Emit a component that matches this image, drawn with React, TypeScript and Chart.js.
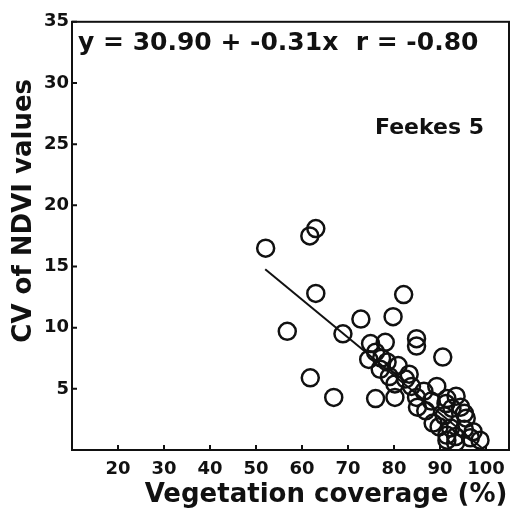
import { useEffect, useRef } from "react";
import { Chart, registerables } from "chart.js";

Chart.register(...registerables);

// Vegetation coverage (%) of each sample
const vegCoverage = [
  52.1, 61.7, 63.0, 63.0, 56.8, 72.8, 82.1, 79.8, 68.9, 84.9,
  84.9, 90.6, 61.8, 66.9, 76.0, 74.9, 78.1, 74.5, 77.3, 76.0,
  77.0, 80.9, 83.3, 80.2, 83.8, 80.2, 84.9, 85.1, 89.3, 88.1,
  91.5, 91.3, 92.6, 94.5, 95.3, 88.5, 90.9, 92.3, 91.5, 93.4,
  93.5, 95.3, 96.6, 98.7, 91.5, 93.4, 86.5, 82.5, 79.0, 86.9,
  89.8, 95.7, 97.2, 78.5,
];
// CV of NDVI values of each sample
const cvNdvi = [
  16.5, 17.5, 18.1, 12.8, 9.7, 10.7, 12.7, 10.9, 9.5, 9.1,
  8.5, 7.6, 5.9, 4.3, 4.2, 8.7, 8.8, 7.4, 7.5, 8.0,
  6.6, 6.9, 6.2, 5.4, 5.2, 4.3, 4.3, 3.5, 5.2, 4.0,
  4.2, 3.8, 3.4, 3.5, 3.0, 2.2, 2.8, 1.8, 1.2, 1.1,
  4.4, 1.7, 1.0, 0.8, 0.8, 0.6, 4.8, 5.8, 6.0, 3.2,
  1.9, 2.6, 1.5, 7.2,
];

const xTickValues = [20, 30, 40, 50, 60, 70, 80, 90, 100];
const yTickValues = [5, 10, 15, 20, 25, 30, 35];
const xRange = [10, 105];
const yRange = [0, 35];

const fitIntercept = 30.9;
const fitSlope = -0.31;
const fitXRange = [52, 99];

const equationLabel = "y = 30.90 + -0.31x  r = -0.80";
const stageLabel = "Feekes 5";
const xTitle = "Vegetation coverage (%)";
const yTitle = "CV of NDVI values";

const INK = "#111111";
const FONT = "'DejaVu Sans', sans-serif";

const framePlugin = {
  id: "frameAndText",
  afterDraw(chart: any) {
    const { ctx, chartArea: a, scales } = chart;
    ctx.save();
    ctx.strokeStyle = INK;
    ctx.lineWidth = 2;
    ctx.strokeRect(a.left, a.top, a.right - a.left, a.bottom - a.top);
    ctx.beginPath();
    for (const t of scales.x.ticks) {
      const px = scales.x.getPixelForValue(t.value);
      ctx.moveTo(px, a.bottom);
      ctx.lineTo(px, a.bottom - 5);
    }
    for (const t of scales.y.ticks) {
      const py = scales.y.getPixelForValue(t.value);
      ctx.moveTo(a.left, py);
      ctx.lineTo(a.left + 5, py);
    }
    ctx.stroke();

    ctx.fillStyle = INK;
    ctx.textBaseline = "alphabetic";
    // equation
    ctx.font = `bold 25px ${FONT}`;
    ctx.textAlign = "left";
    ctx.fillText(equationLabel, a.left + 6, a.top + 28);
    // stage
    ctx.font = `bold 22px ${FONT}`;
    ctx.textAlign = "right";
    ctx.fillText(stageLabel, a.right - 25, a.top + 112);
    // x title
    ctx.font = `bold 26px ${FONT}`;
    ctx.textAlign = "center";
    ctx.fillText(xTitle, a.left + 254, a.bottom + 52);
    // y title
    ctx.save();
    ctx.translate(a.left - 48, a.top + 189);
    ctx.rotate(-Math.PI / 2);
    ctx.textAlign = "center";
    ctx.textBaseline = "middle";
    ctx.fillText(yTitle, 0, 0);
    ctx.restore();

    ctx.restore();
  },
};

export default function App() {
  const canvasRef = useRef<HTMLCanvasElement>(null);

  useEffect(() => {
    if (!canvasRef.current) return;
    const points = vegCoverage.map((x, i) => ({ x, y: cvNdvi[i] }));
    const fitLine = fitXRange.map((x) => ({ x, y: fitIntercept + fitSlope * x }));
    const tickFont = { family: FONT, size: 18, weight: "bold" as const };

    const chart = new Chart(canvasRef.current, {
      type: "scatter",
      data: {
        datasets: [
          {
            data: points,
            pointStyle: "circle",
            pointRadius: 8.5,
            pointBorderWidth: 2.5,
            borderColor: INK,
            backgroundColor: "rgba(0,0,0,0)",
            pointBackgroundColor: "rgba(0,0,0,0)",
            pointBorderColor: INK,
          },
          {
            data: fitLine,
            showLine: true,
            borderColor: INK,
            borderWidth: 2,
            pointRadius: 0,
          },
        ],
      },
      options: {
        animation: false,
        responsive: true,
        maintainAspectRatio: false,
        layout: { padding: { top: 9, right: 2, left: 0, bottom: 0 } },
        plugins: {
          legend: { display: false },
          tooltip: { enabled: false },
        },
        scales: {
          x: {
            type: "linear",
            min: xRange[0],
            max: xRange[1],
            grid: { display: false, drawTicks: false },
            border: { display: false },
            afterBuildTicks: (s: any) => {
              s.ticks = xTickValues.map((value) => ({ value }));
            },
            afterFit: (s: any) => {
              s.height = 64;
            },
            ticks: {
              color: INK,
              font: tickFont,
              padding: 9,
              maxRotation: 0,
              autoSkip: false,
            },
          },
          y: {
            type: "linear",
            min: yRange[0],
            max: yRange[1],
            grid: { display: false, drawTicks: false },
            border: { display: false },
            afterBuildTicks: (s: any) => {
              s.ticks = yTickValues.map((value) => ({ value }));
            },
            afterFit: (s: any) => {
              s.width = 64;
            },
            ticks: {
              color: INK,
              font: tickFont,
              padding: 3,
              autoSkip: false,
            },
          },
        },
      },
      plugins: [framePlugin],
    });
    return () => chart.destroy();
  }, []);

  return (
    <div style={{ width: 512, height: 506, position: "relative" }}>
      <canvas ref={canvasRef} />
    </div>
  );
}
